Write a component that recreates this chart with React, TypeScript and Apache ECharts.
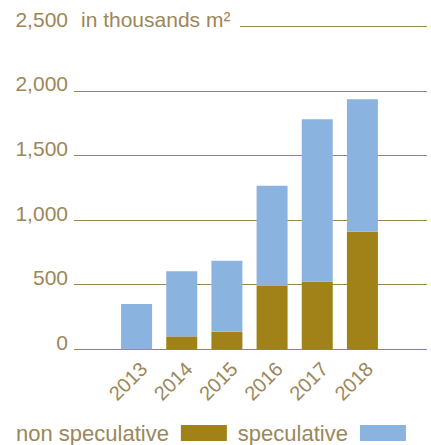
import React, { useEffect, useRef } from "react";
import * as echarts from "echarts";

const years = ["2013", "2014", "2015", "2016", "2017", "2018"];
const nonSpeculative = [0, 100, 135, 490, 525, 910];
const speculative = [350, 505, 550, 775, 1255, 1025];
const yMin = 0;
const yMax = 2500;
const yInterval = 500;
const unitLabel = "in thousands m²";
const seriesNames = ["non speculative", "speculative"];

const TAN = "#9b875a";
const LINE = "#9a8654";
const GOLD = "#a08218";
const BLUE = "#8ab3e0";
const FONT = "'Liberation Sans', Arial, Helvetica, sans-serif";

export default function App() {
  const ref = useRef<HTMLDivElement>(null);

  useEffect(() => {
    if (!ref.current) return;
    const chart = echarts.init(ref.current, null, { renderer: "svg" });
    chart.setOption({
      animation: false,
      textStyle: { fontFamily: FONT },
      grid: [
        { left: 74, right: 4, top: 26.3, bottom: 95.7 },
        { left: 114, right: 46, top: 26.3, bottom: 95.7 },
      ],
      graphic: [
        {
          type: "rect",
          z: 50,
          silent: true,
          shape: { x: 73, y: 21, width: 167, height: 9 },
          style: { fill: "#ffffff" },
        },
        {
          type: "text",
          z: 51,
          silent: true,
          x: 81,
          y: 26.3,
          style: {
            text: unitLabel,
            fill: TAN,
            fontSize: 21,
            fontFamily: FONT,
            align: "left",
            verticalAlign: "bottom",
            lineHeight: 14,
          },
        },
      ],
      xAxis: [
        { gridIndex: 0, type: "value", min: 0, max: 1, show: false },
        {
          gridIndex: 1,
          type: "category",
          data: years,
          axisLine: { show: false },
          axisTick: { show: false },
          axisLabel: {
            rotate: 45,
            color: TAN,
            fontSize: 20,
            fontFamily: FONT,
            margin: 9,
            align: "right",
            verticalAlign: "top",
          },
        },
      ],
      yAxis: [
        {
          gridIndex: 0,
          type: "value",
          min: yMin,
          max: yMax,
          interval: yInterval,
          axisLine: { show: false },
          axisTick: { show: false },
          splitLine: { lineStyle: { color: LINE, width: 1 } },
          axisLabel: {
            color: TAN,
            fontSize: 21,
            fontFamily: FONT,
            margin: 6,
            verticalAlign: "bottom",
            lineHeight: 14,
            formatter: (v: number) => v.toLocaleString("en-US"),
          },
        },
        { gridIndex: 1, type: "value", min: yMin, max: yMax, interval: yInterval, show: false },
      ],
      legend: {
        left: 16,
        top: 422,
        padding: 0,
        orient: "horizontal",
        align: "right",
        icon: "rect",
        itemWidth: 46,
        itemHeight: 16,
        itemGap: 11,
        textStyle: {
          color: TAN,
          fontSize: 22,
          fontFamily: FONT,
          lineHeight: 16,
          padding: [0, 7, 0, 0],
        },
        data: seriesNames,
      },
      series: [
        {
          name: seriesNames[0],
          type: "bar",
          stack: "total",
          xAxisIndex: 1,
          yAxisIndex: 1,
          barWidth: 31,
          itemStyle: { color: GOLD },
          data: nonSpeculative,
        },
        {
          name: seriesNames[1],
          type: "bar",
          stack: "total",
          xAxisIndex: 1,
          yAxisIndex: 1,
          barWidth: 31,
          itemStyle: { color: BLUE },
          data: speculative,
        },
      ],
    });
    return () => chart.dispose();
  }, []);

  return (
    <div
      ref={ref}
      style={{ position: "fixed", left: 0, top: 0, width: 431, height: 445, background: "#fff" }}
    />
  );
}
